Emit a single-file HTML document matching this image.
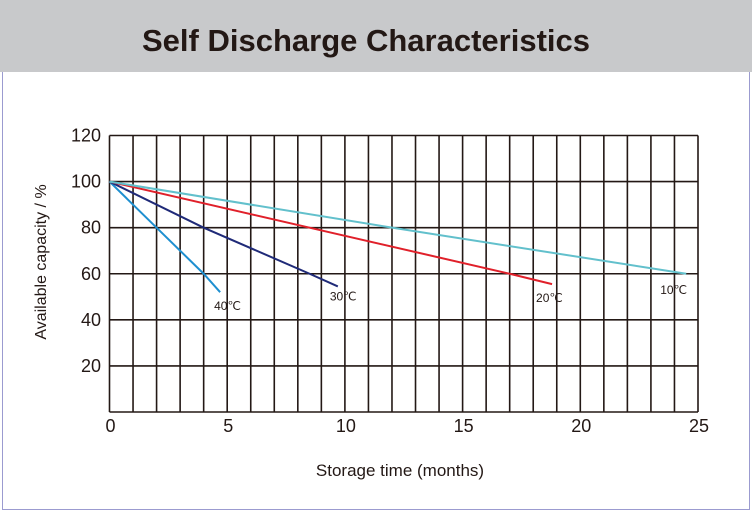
<!DOCTYPE html>
<html><head><meta charset="utf-8"><style>
body{margin:0;width:752px;height:514px;overflow:hidden;background:#fff;font-family:"Liberation Sans",Arial,sans-serif}
#hdr{position:absolute;left:0;top:0;width:752px;height:72px;background:#c8c9cb}
#title{position:absolute;left:0;width:732px;top:23px;text-align:center;font-weight:bold;font-size:31px;color:#231815;letter-spacing:0px}
#box{position:absolute;left:2px;top:72px;width:746px;height:437px;border:1.5px solid #9b9bd0;border-top:none}
</style></head><body>
<div id="hdr"><div id="title">Self Discharge Characteristics</div></div>
<div id="box"></div>
<svg id="chart" width="752" height="514" style="position:absolute;left:0;top:0"></svg>
<script>
const xTicks=[0,5,10,15,20,25];
const yTicks=[20,40,60,80,100,120];
const seriesNames=["40℃","30℃","20℃","10℃"];
const s40x=[0,2,4,4.7], s40y=[100,80,60,52];
const s30x=[0,4,8.5,9.7], s30y=[100,80,60,54.5];
const s20x=[0,8.5,17,18.8], s20y=[100,80,60,55.5];
const s10x=[0,12,24.5], s10y=[100,80,60];
const svg=document.getElementById('chart');
const NS='http://www.w3.org/2000/svg';
const X0=109.5,X1=698,Y0=412,Y1=135.5;
const xs=v=>X0+(v/25)*(X1-X0);
const ys=v=>Y0-(v/120)*(Y0-Y1);
function mk(t,a){const e=document.createElementNS(NS,t);for(const k in a)e.setAttribute(k,a[k]);svg.appendChild(e);return e;}
for(let m=0;m<=25;m++){const l=mk('line',{x1:xs(m),x2:xs(m),y1:Y1,y2:Y0,stroke:'#231815','stroke-width':1.6});

}
for(let v=0;v<=120;v+=20){const l=mk('line',{x1:X0,x2:X1,y1:ys(v),y2:ys(v),stroke:'#231815','stroke-width':1.6});

}
xTicks.forEach(v=>{const t=mk('text',{x:xs(v)+1,y:432,'text-anchor':'middle','font-size':18,fill:'#231815'});t.textContent=v;

});
yTicks.forEach(v=>{const t=mk('text',{x:101,y:ys(v)+6,'text-anchor':'end','font-size':18,fill:'#231815'});t.textContent=v;

});
const series=[[s40x,s40y,'#1e8fd0'],[s30x,s30y,'#1f2a78'],[s20x,s20y,'#e0202a'],[s10x,s10y,'#62c0cc']];
const labOff=[[-6,-10],[-8,-6],[-16,-10],[-26,-12]];
series.forEach((s,i)=>{const pts=s[0].map((x,j)=>xs(x)+','+ys(s[1][j])).join(' ');
const p=mk('polyline',{points:pts,fill:'none',stroke:s[2],'stroke-width':2});


const n=s[0].length-1;
const t=mk('text',{x:xs(s[0][n])+labOff[i][0],y:ys(s[1][n])-labOff[i][1]+8,'font-size':12,fill:'#231815'});t.textContent=seriesNames[i];

});
const xt=mk('text',{x:400,y:476,'text-anchor':'middle','font-size':17,fill:'#231815'});xt.textContent='Storage time (months)';


const yt=mk('text',{x:0,y:0,'text-anchor':'middle','font-size':16,fill:'#231815',transform:'translate(46,262) rotate(-90)'});yt.textContent='Available capacity / %';


</script>
</body></html>
